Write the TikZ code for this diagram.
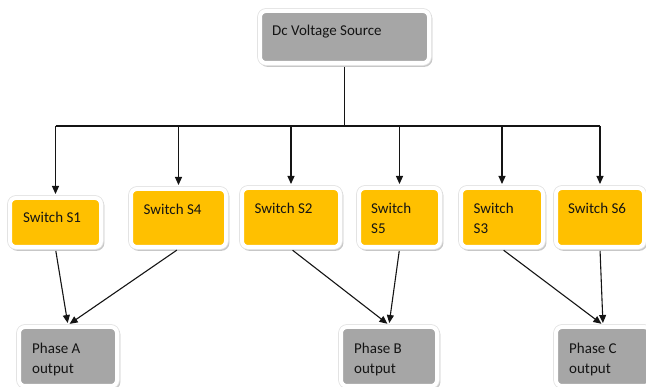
\documentclass[tikz,border=0pt]{standalone}
\usepackage{fontspec}
\setmainfont{Carlito}
\usetikzlibrary{arrows.meta}
\definecolor{swyellow}{HTML}{FFC000}
\definecolor{srcgray}{HTML}{A6A6A6}
\definecolor{ink}{HTML}{141414}
\tikzset{
  card/.style={rectangle, rounded corners=6pt, draw=white, line width=4pt, inner sep=0pt,
    preaction={fill=black!22, draw=black!22, line width=4pt,
               transform canvas={xshift=1.4pt, yshift=-1.8pt}},
    preaction={draw=black!11, line width=5.6pt}},
  switchbox/.style={card, fill=swyellow},
  graybox/.style={card, fill=srcgray},
  lbl/.style={anchor=north west, inner sep=0pt, align=left, text=ink,
    font=\fontsize{15}{20}\selectfont},
  wire/.style={draw=ink, line width=1.1pt},
  arr/.style={wire, -{Triangle[length=8pt,width=7pt]}, shorten >=2pt},
}
\begin{document}
\begin{tikzpicture}[x=1pt, y=-1pt]
\useasboundingbox (0,0) rectangle (646,387);
\clip (0,0) rectangle (646,387);

% source
\node[graybox, minimum width=169pt, minimum height=52pt] (dc) at (344.5,37) {};
\node[lbl] (dct) at ([shift={(14,16)}]dc.north west) {Dc Voltage Source};

% switches
\node[switchbox, minimum width=91pt, minimum height=49pt] (s1) at (55.5,222.5) {};
\node[switchbox, minimum width=95pt, minimum height=58pt] (s4) at (178.5,218) {};
\node[switchbox, minimum width=98pt, minimum height=59pt] (s2) at (291,217.5) {};
\node[switchbox, minimum width=81pt, minimum height=59pt] (s5) at (399.5,217.5) {};
\node[switchbox, minimum width=82pt, minimum height=59pt] (s3) at (502,217.5) {};
\node[switchbox, minimum width=88pt, minimum height=59pt] (s6) at (600,217.5) {};

\node[lbl] (s1t) at ([shift={(15,16)}]s1.north west) {Switch S1};
\node[lbl] (s4t) at ([shift={(14.5,16.5)}]s4.north west) {Switch S4};
\node[lbl] (s2t) at ([shift={(14.5,16.5)}]s2.north west) {Switch S2};
\node[lbl] (s5t) at ([shift={(14,16.5)}]s5.north west) {Switch\\S5};
\node[lbl] (s3t) at ([shift={(14.5,16.5)}]s3.north west) {Switch\\S3};
\node[lbl] (s6t) at ([shift={(14,16.5)}]s6.north west) {Switch S6};

% outputs
\node[graybox, minimum width=98pt, minimum height=59pt] (pa) at (68,356.5) {};
\node[graybox, minimum width=96pt, minimum height=59pt] (pb) at (389,356.5) {};
\node[graybox, minimum width=94pt, minimum height=59pt] (pc) at (603,356.5) {};

\node[lbl] (pat) at ([shift={(15,17.5)}]pa.north west) {Phase A\\output};
\node[lbl] (pbt) at ([shift={(15,17.5)}]pb.north west) {Phase B\\output};
\node[lbl] (pct) at ([shift={(15,17.5)}]pc.north west) {Phase C\\output};

% distribution bus
\coordinate (bus) at (344.5,126);
\draw[wire] ([yshift=-2pt]dc.south) -- (bus);
\draw[wire] (s1 |- bus) -- (s6 |- bus);
\foreach \n in {s1,s4,s2,s5,s3,s6}
  \draw[arr] (\n |- bus) -- (\n.north);

% switch to phase connections
\draw[arr, shorten <=2pt] (s1.south) -- (pa.north);
\draw[arr, shorten <=2pt] (s4.south) -- (pa.north);
\draw[arr, shorten <=2pt] (s2.south) -- (pb.north);
\draw[arr, shorten <=2pt] (s5.south) -- (pb.north);
\draw[arr, shorten <=2pt] (s3.south) -- (pc.north);
\draw[arr, shorten <=2pt] (s6.south) -- (pc.north);
\end{tikzpicture}
\end{document}
